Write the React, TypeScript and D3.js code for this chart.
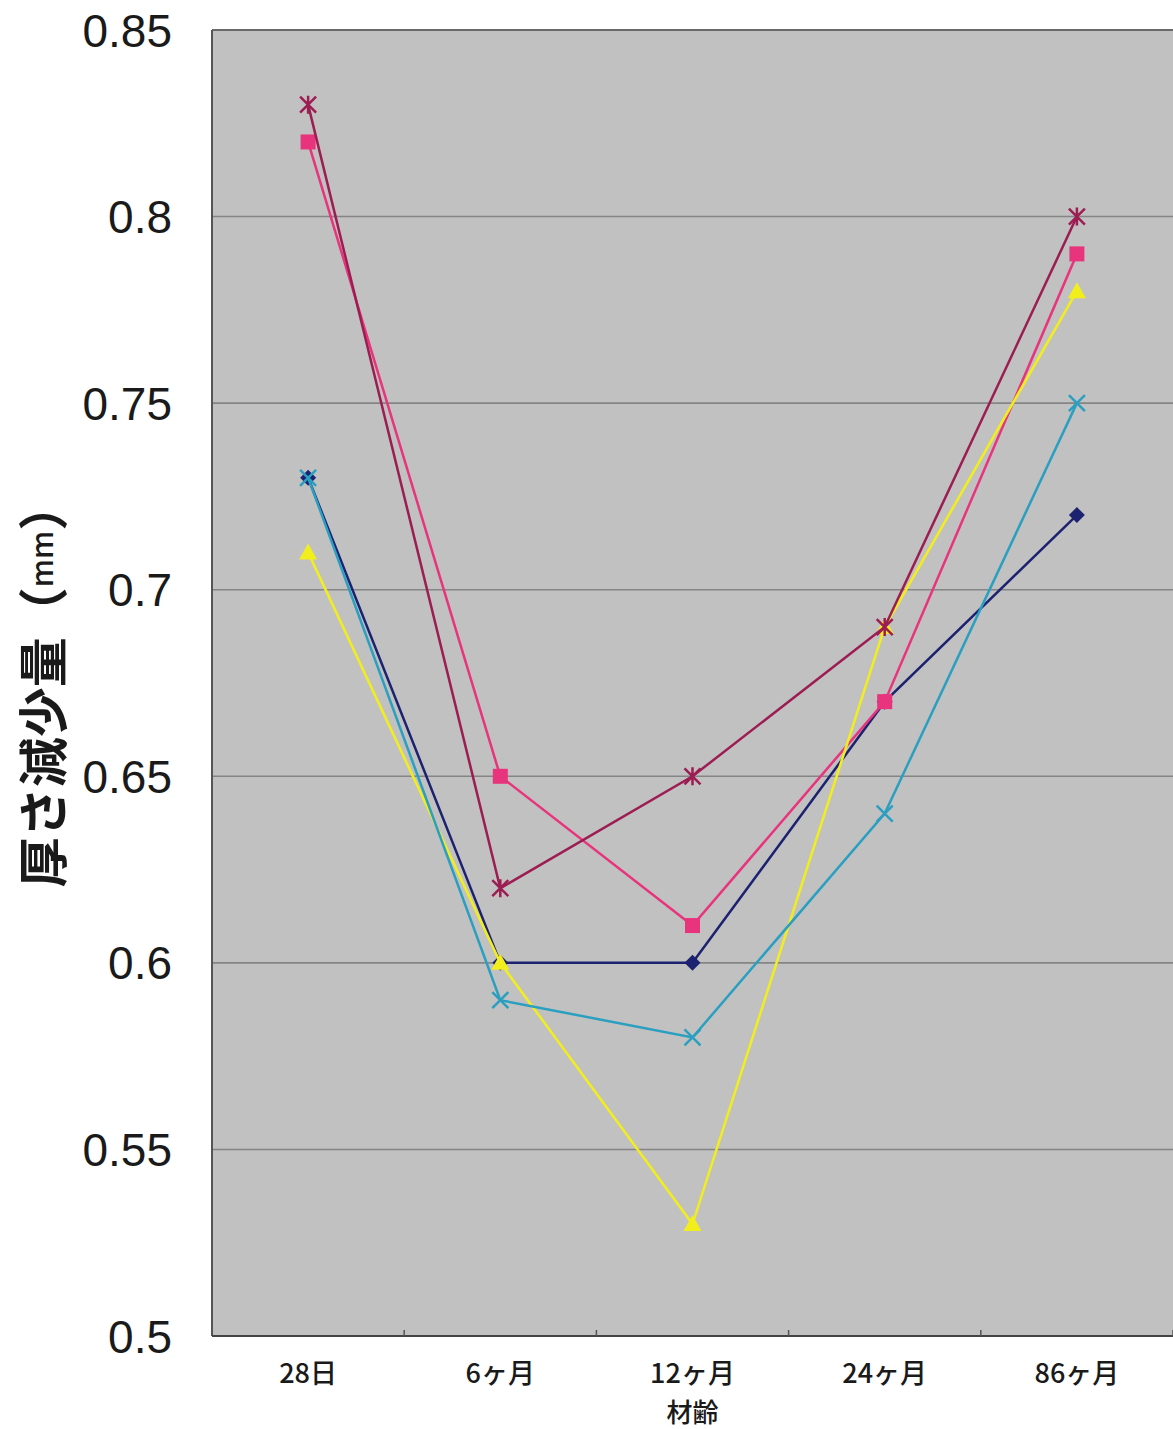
import React from "react";
import * as d3 from "d3";

const categories = ["28日", "6ヶ月", "12ヶ月", "24ヶ月", "86ヶ月"];
const yTicks = [0.5, 0.55, 0.6, 0.65, 0.7, 0.75, 0.8, 0.85];
const seriesNavy = [0.73, 0.6, 0.6, 0.67, 0.72];
const seriesPink = [0.82, 0.65, 0.61, 0.67, 0.79];
const seriesYellow = [0.71, 0.6, 0.53, 0.69, 0.78];
const seriesCyan = [0.73, 0.59, 0.58, 0.64, 0.75];
const seriesMaroon = [0.83, 0.62, 0.65, 0.69, 0.8];

const series = [
  { name: "A", values: seriesNavy, color: "#1c2270", marker: "diamond" },
  { name: "B", values: seriesPink, color: "#e8347c", marker: "square" },
  { name: "C", values: seriesYellow, color: "#f2ee1c", marker: "triangle" },
  { name: "D", values: seriesCyan, color: "#2a9fc0", marker: "x" },
  { name: "E", values: seriesMaroon, color: "#9c1d52", marker: "star" },
];

const W = 1173;
const H = 1429;
const left = 212;
const right = 1173;
const top = 30;
const bottom = 1336;

export default function App() {
  const x = d3.scaleBand<string>().domain(categories).range([left, right]).padding(0);
  const y = d3.scaleLinear().domain([0.5, 0.85]).range([bottom, top]);
  const cx = (c: string) => (x(c) as number) + x.bandwidth() / 2;
  const line = d3
    .line<number>()
    .x((_, i) => cx(categories[i]))
    .y((d) => y(d));

  const marker = (type: string, px: number, py: number, color: string, key: string) => {
    const s = 8;
    switch (type) {
      case "diamond":
        return (
          <path key={key} d={`M${px},${py - s}L${px + s},${py}L${px},${py + s}L${px - s},${py}Z`} fill={color} />
        );
      case "square":
        return <rect key={key} x={px - 7.5} y={py - 7.5} width={15} height={15} fill={color} />;
      case "triangle":
        return (
          <path key={key} d={`M${px},${py - 9}L${px + 9},${py + 7}L${px - 9},${py + 7}Z`} fill={color} />
        );
      case "x":
        return (
          <path
            key={key}
            d={`M${px - 8},${py - 8}L${px + 8},${py + 8}M${px - 8},${py + 8}L${px + 8},${py - 8}`}
            stroke={color}
            strokeWidth={2.5}
            fill="none"
          />
        );
      case "star":
        return (
          <path
            key={key}
            d={`M${px - 8},${py - 8}L${px + 8},${py + 8}M${px - 8},${py + 8}L${px + 8},${py - 8}M${px},${py - 9}L${px},${py + 9}`}
            stroke={color}
            strokeWidth={2.5}
            fill="none"
          />
        );
    }
    return null;
  };

  const boundaries = categories.map((c) => x(c) as number).slice(1).concat([right]);

  return (
    <svg width={W} height={H} style={{ position: "absolute", left: 0, top: 0 }} xmlns="http://www.w3.org/2000/svg">
      <rect x={0} y={0} width={W} height={H} fill="#ffffff" />
      <rect x={left} y={top} width={right - left} height={bottom - top} fill="#c1c1c1" />
      {yTicks.map((t) => (
        <line key={"g" + t} x1={left} x2={right} y1={y(t)} y2={y(t)} stroke="#858585" strokeWidth={1.6} />
      ))}
      <line x1={left} x2={right} y1={top} y2={top} stroke="#6a6a6a" strokeWidth={2} />
      <line x1={left} x2={left} y1={top} y2={bottom} stroke="#555" strokeWidth={2} />
      <line x1={left} x2={right} y1={bottom} y2={bottom} stroke="#444" strokeWidth={2} />
      {boundaries.map((b, i) => (
        <line key={"t" + i} x1={b} x2={b} y1={bottom} y2={bottom - 6} stroke="#555" strokeWidth={1.5} />
      ))}
      {yTicks.map((t) => (
        <text
          key={"l" + t}
          x={172}
          y={y(t)}
          dy="0.36em"
          textAnchor="end"
          fontFamily="'Liberation Sans', Arial, sans-serif"
          fontSize={46}
          fill="#1a1a1a"
        >
          {String(t)}
        </text>
      ))}
      {categories.map((c) => (
        <text
          key={"c" + c}
          x={cx(c)}
          y={1383}
          textAnchor="middle"
          fontFamily="'Noto Sans CJK JP', sans-serif"
          fontSize={27}
          fontWeight={500}
          fill="#1a1a1a"
        >
          {c}
        </text>
      ))}
      <text
        x={cx(categories[2])}
        y={1422}
        textAnchor="middle"
        fontFamily="'Noto Sans CJK JP', sans-serif"
        fontSize={26}
        fontWeight={500}
        fill="#1a1a1a"
      >
        材齢
      </text>
      <text
        transform={`translate(40,684) rotate(-90)`}
        textAnchor="middle"
        dominantBaseline="central"
        fontFamily="'Noto Sans CJK JP', sans-serif"
        fontSize={50}
        fontWeight={700}
        fill="#1a1a1a"
      >
        厚さ減少量（<tspan fontSize={30} fontWeight={500}>mm</tspan>）
      </text>
      {series.map((s) => (
        <g key={s.name}>
          <path d={line(s.values) as string} fill="none" stroke={s.color} strokeWidth={2.5} />
          {s.values.map((v, i) => marker(s.marker, cx(categories[i]), y(v), s.color, s.name + i))}
        </g>
      ))}
    </svg>
  );
}
